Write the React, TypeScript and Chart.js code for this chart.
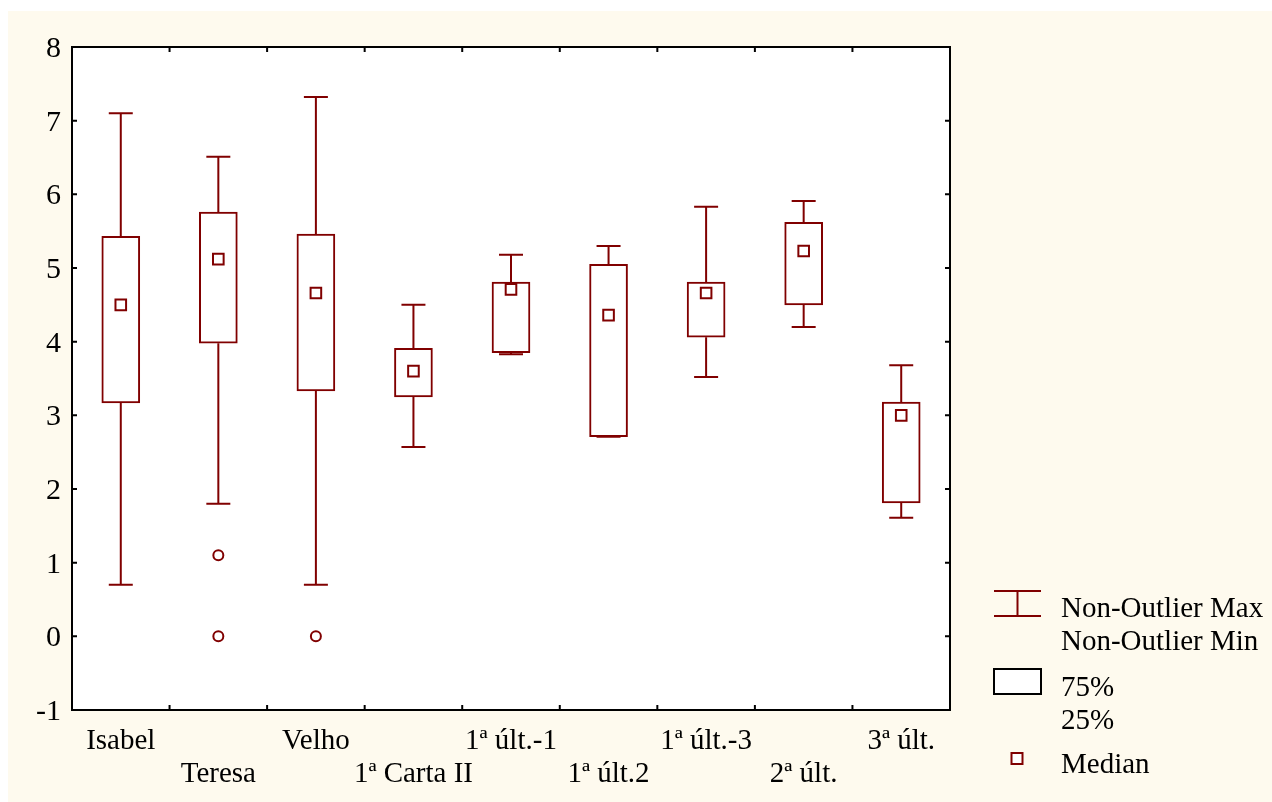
import React, { useEffect, useRef } from "react";
import { Chart, registerables } from "chart.js";

Chart.register(...registerables);

const categories = ["Isabel", "Teresa", "Velho", "1ª Carta II", "1ª últ.-1", "1ª últ.2", "1ª últ.-3", "2ª últ.", "3ª últ."];
const whiskerMax = [7.10, 6.51, 7.32, 4.50, 5.18, 5.30, 5.83, 5.91, 3.68];
const q3 = [5.43, 5.76, 5.46, 3.91, 4.81, 5.05, 4.81, 5.62, 3.18];
const median = [4.50, 5.12, 4.66, 3.60, 4.71, 4.36, 4.66, 5.23, 3.00];
const q1 = [3.17, 3.98, 3.33, 3.25, 3.85, 2.71, 4.06, 4.50, 1.81];
const whiskerMin = [0.70, 1.80, 0.70, 2.57, 3.83, 2.71, 3.52, 4.20, 1.61];
const outlierCats = ["Teresa", "Teresa", "Velho"];
const outlierVals = [1.1, 0, 0];
const yTicks = [-1, 0, 1, 2, 3, 4, 5, 6, 7, 8];

const RED = "#800000";
const CREAM = "rgb(254,250,238)";
const FONT = "'Liberation Serif', 'Times New Roman', serif";
const FS = 29;

const framePlugin = {
  id: "frame",
  beforeDraw(chart: any) {
    const { ctx, chartArea: a } = chart;
    ctx.save();
    ctx.fillStyle = CREAM;
    ctx.fillRect(0, 0, chart.width, chart.height);
    ctx.fillStyle = "#ffffff";
    ctx.fillRect(a.left, a.top, a.right - a.left, a.bottom - a.top);
    ctx.restore();
  },
  beforeDatasetsDraw(chart: any) {
    const { ctx } = chart;
    const x = chart.scales.x;
    const y = chart.scales.y;
    ctx.save();
    ctx.strokeStyle = RED;
    ctx.lineWidth = 2;
    categories.forEach((c, i) => {
      const cx = x.getPixelForValue(i);
      const capHalf = 12;
      const yMax = y.getPixelForValue(whiskerMax[i]);
      const yQ3 = y.getPixelForValue(q3[i]);
      const yQ1 = y.getPixelForValue(q1[i]);
      const yMin = y.getPixelForValue(whiskerMin[i]);
      ctx.beginPath();
      ctx.moveTo(cx, yQ3);
      ctx.lineTo(cx, yMax);
      ctx.moveTo(cx - capHalf, yMax);
      ctx.lineTo(cx + capHalf, yMax);
      ctx.moveTo(cx, yQ1);
      ctx.lineTo(cx, yMin);
      ctx.moveTo(cx - capHalf, yMin);
      ctx.lineTo(cx + capHalf, yMin);
      ctx.stroke();
    });
    ctx.restore();
  },
  afterDraw(chart: any) {
    const { ctx, chartArea: a } = chart;
    const x = chart.scales.x;
    const y = chart.scales.y;
    ctx.save();
    ctx.strokeStyle = "#000";
    ctx.lineWidth = 2;
    ctx.strokeRect(a.left, a.top, a.right - a.left, a.bottom - a.top);
    ctx.beginPath();
    const tl = 5;
    yTicks.forEach((v) => {
      const py = y.getPixelForValue(v);
      ctx.moveTo(a.left, py);
      ctx.lineTo(a.left + tl, py);
      ctx.moveTo(a.right, py);
      ctx.lineTo(a.right - tl, py);
    });
    for (let i = 1; i < categories.length; i++) {
      const px = (x.getPixelForValue(i - 1) + x.getPixelForValue(i)) / 2;
      ctx.moveTo(px, a.bottom);
      ctx.lineTo(px, a.bottom - tl);
      ctx.moveTo(px, a.top);
      ctx.lineTo(px, a.top + tl);
    }
    ctx.stroke();

    // legend
    const lx = a.right + 44;
    const tx = a.right + 111;
    ctx.strokeStyle = RED;
    ctx.beginPath();
    ctx.moveTo(lx, 580);
    ctx.lineTo(lx + 47, 580);
    ctx.moveTo(lx, 605);
    ctx.lineTo(lx + 47, 605);
    ctx.moveTo(lx + 23.5, 580);
    ctx.lineTo(lx + 23.5, 605);
    ctx.stroke();

    ctx.fillStyle = "#fff";
    ctx.fillRect(lx, 658, 47, 25);
    ctx.strokeStyle = "#000";
    ctx.strokeRect(lx, 658, 47, 25);

    ctx.fillStyle = "#fff";
    ctx.fillRect(lx + 17.5, 742, 11, 11);
    ctx.strokeStyle = RED;
    ctx.strokeRect(lx + 17.5, 742, 11, 11);

    ctx.fillStyle = "#000";
    ctx.font = `${FS}px ${FONT}`;
    ctx.textBaseline = "middle";
    ctx.textAlign = "left";
    ctx.fillText("Non-Outlier Max", tx, 598);
    ctx.fillText("Non-Outlier Min", tx, 631);
    ctx.fillText("75%", tx, 677);
    ctx.fillText("25%", tx, 710);
    ctx.fillText("Median", tx, 754);
    ctx.restore();
  },
};

export default function App() {
  const ref = useRef<HTMLCanvasElement | null>(null);
  useEffect(() => {
    if (!ref.current) return;
    const chart = new Chart(ref.current, {
      type: "bar",
      data: {
        labels: categories,
        datasets: [
          {
            type: "bar",
            data: q1.map((v, i) => [v, q3[i]]) as any,
            backgroundColor: "#ffffff",
            borderColor: RED,
            borderWidth: 2,
            borderSkipped: false,
            barThickness: 38,
            order: 3,
          },
          {
            type: "line",
            data: median,
            showLine: false,
            pointStyle: "rect",
            pointRadius: 7.5,
            pointBackgroundColor: "#ffffff",
            pointBorderColor: RED,
            pointBorderWidth: 2,
            order: 1,
          } as any,
          {
            type: "line",
            data: outlierCats.map((c, i) => ({ x: c, y: outlierVals[i] })),
            showLine: false,
            pointStyle: "circle",
            pointRadius: 5,
            pointBackgroundColor: "#ffffff",
            pointBorderColor: RED,
            pointBorderWidth: 2,
            order: 0,
          } as any,
        ],
      },
      options: {
        animation: false,
        responsive: false,
        maintainAspectRatio: false,
        layout: { padding: { top: 36, right: 322, left: 0, bottom: 0 } },
        plugins: { legend: { display: false }, tooltip: { enabled: false } },
        scales: {
          x: {
            type: "category",
            offset: true,
            grid: { display: false, drawTicks: false },
            border: { display: false },
            afterFit: (s: any) => {
              s.height = 92;
            },
            ticks: {
              autoSkip: false,
              maxRotation: 0,
              minRotation: 0,
              padding: 15,
              color: "#000",
              font: { family: FONT, size: FS, lineHeight: "33px" } as any,
              callback: (v: any, i: number) => (i % 2 === 0 ? [categories[i], ""] : ["", categories[i]]),
            },
          },
          y: {
            min: -1,
            max: 8,
            grid: { display: false, drawTicks: false },
            border: { display: false },
            afterFit: (s: any) => {
              s.width = 64;
            },
            ticks: {
              stepSize: 1,
              padding: 11,
              labelOffset: 2,
              color: "#000",
              font: { family: FONT, size: 30 },
            },
          },
        },
      },
      plugins: [framePlugin],
    });
    return () => chart.destroy();
  }, []);
  return (
    <div style={{ position: "fixed", left: 8, top: 11 }}>
      <canvas ref={ref} width={1264} height={791} style={{ display: "block" }} />
    </div>
  );
}
